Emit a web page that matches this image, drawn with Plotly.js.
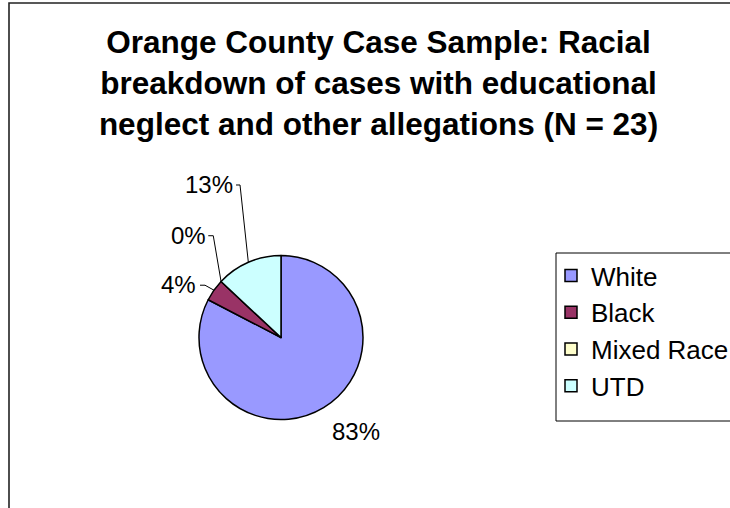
<!DOCTYPE html>
<html>
<head>
<meta charset="utf-8">
<script src="https://cdn.plot.ly/plotly-3.0.1.min.js"></script>
<style>html,body{margin:0;padding:0;background:#fff;overflow:hidden;}#chart{width:730px;height:508px;}</style>
</head>
<body>
<div id="chart"></div>
<script>
// ---- data ----
const categories = ['White', 'Black', 'Mixed Race', 'UTD'];
const caseCounts = [19, 1, 0, 3];
const sliceColors = ['#9999FF', '#993366', '#FFFFCC', '#CCFFFF'];
const titleLines = [
  'Orange County Case Sample: Racial',
  'breakdown of cases with educational',
  'neglect and other allegations (N = 23)'
];

// ---- layout constants (pixels) ----
const W = 730, H = 508;
const CX = 281, CY = 337.5, R = 82;
const FONT = 'Liberation Sans, Arial, sans-serif';
// label placement relative to each slice's mid-edge point: [textDx, textDy, elbowDx, elbowDy, tickDx] (null = no leader)
const labelOffsets = [
  [32.4, 24.4, null, null, null],
  [-35.7, -5.3, -9, -5, -14],
  [-32.8, -46.5, -7.8, -45.8, -12.8],
  [-39.3, -78, -8.3, -77.3, -12.3]
];

const total = caseCounts.reduce((a, b) => a + b, 0);
const px = x => x / W;
const py = y => 1 - y / H;

const annotations = [];
const shapes = [
  // chart-area frame: only left and top edges fall inside the picture
  {
    type: 'path', xref: 'paper', yref: 'paper',
    path: 'M' + px(9) + ',' + py(H + 10) + ' L' + px(9) + ',' + py(3) + ' L' + px(W + 10) + ',' + py(3),
    line: {color: '#222', width: 1.6}
  },
  // legend box (runs past the right edge, as in the original)
  {
    type: 'rect', xref: 'paper', yref: 'paper', layer: 'below',
    x0: px(556), x1: px(W + 10), y0: py(421), y1: py(253),
    line: {color: '#000', width: 1}, fillcolor: '#fff'
  }
];

let cum = 0;
caseCounts.forEach((v, i) => {
  const mid = (cum + v / 2) / total * 2 * Math.PI; // clockwise from 12 o'clock
  cum += v;
  const ex = CX + R * Math.sin(mid);
  const ey = CY - R * Math.cos(mid);
  const o = labelOffsets[i];
  annotations.push({
    xref: 'paper', yref: 'paper', x: px(ex + o[0]), y: py(ey + o[1]),
    xanchor: 'center', yanchor: 'middle', showarrow: false,
    text: Math.round(v / total * 100) + '%',
    font: {family: FONT, size: 24, color: '#000'}
  });
  if (o[2] !== null) {
    shapes.push({
      type: 'path', xref: 'paper', yref: 'paper',
      path: 'M' + px(ex + o[4]) + ',' + py(ey + o[3]) +
        ' L' + px(ex + o[2]) + ',' + py(ey + o[3]) +
        ' L' + px(ex) + ',' + py(ey),
      line: {color: '#000', width: 1}
    });
  }
});

const trace = {
  type: 'pie',
  labels: categories,
  values: caseCounts,
  sort: false,
  direction: 'clockwise',
  rotation: 0,
  textinfo: 'none',
  hoverinfo: 'skip',
  marker: {colors: sliceColors, line: {color: '#000', width: 1.5}},
  domain: {x: [px(CX - R), px(CX + R)], y: [py(CY + R), py(CY - R)]},
  showlegend: true
};

const layout = {
  width: W, height: H,
  margin: {l: 0, r: 0, t: 0, b: 0, autoexpand: false},
  paper_bgcolor: '#fff',
  title: {
    text: titleLines.join('<br>'),
    font: {family: FONT, size: 31.5, color: '#000', weight: 'bold'},
    x: px(378.5), xanchor: 'center', xref: 'paper',
    y: py(53), yanchor: 'middle', yref: 'container'
  },
  legend: {
    x: px(551), xanchor: 'left', y: py(252), yanchor: 'top',
    borderwidth: 0, bgcolor: 'rgba(0,0,0,0)',
    font: {family: FONT, size: 26, color: '#000'},
    traceorder: 'normal'
  },
  annotations: annotations,
  shapes: shapes
};

Plotly.newPlot('chart', [trace], layout, {displayModeBar: false, staticPlot: true});
</script>
</body>
</html>
